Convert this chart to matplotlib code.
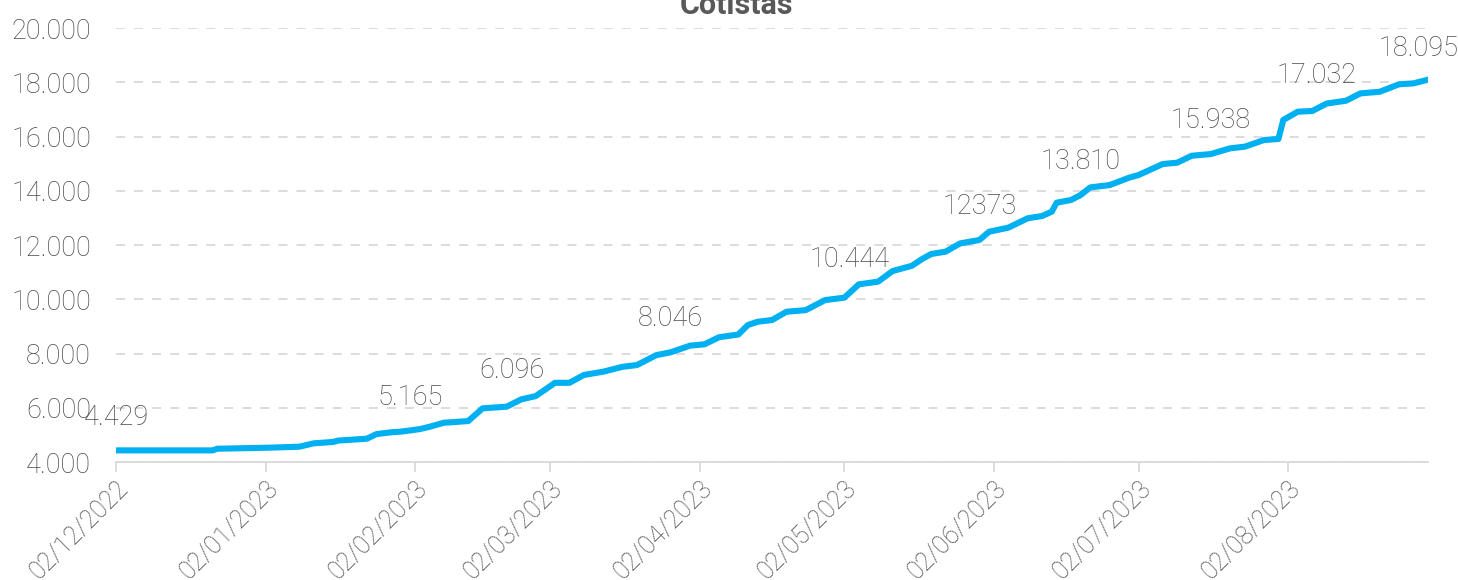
import numpy as np
import pandas as pd
import matplotlib
matplotlib.use("Agg")
import matplotlib.pyplot as plt
import matplotlib.dates as mdates
from matplotlib.ticker import FuncFormatter

plt.rcParams['font.family'] = ['Roboto', 'DejaVu Sans']
plt.rcParams['font.weight'] = 'light'

# valores (cotistas por data)
dates = ["2022-12-02", "2022-12-22", "2022-12-23", "2023-01-03", "2023-01-09", "2023-01-12",
         "2023-01-16", "2023-01-17", "2023-01-23", "2023-01-25", "2023-01-28", "2023-01-30",
         "2023-02-01", "2023-02-03", "2023-02-05", "2023-02-08", "2023-02-09", "2023-02-13",
         "2023-02-16", "2023-02-21", "2023-02-24", "2023-02-27", "2023-03-03", "2023-03-06",
         "2023-03-09", "2023-03-13", "2023-03-17", "2023-03-20", "2023-03-24", "2023-03-27",
         "2023-03-31", "2023-04-03", "2023-04-06", "2023-04-10", "2023-04-12", "2023-04-14",
         "2023-04-17", "2023-04-20", "2023-04-24", "2023-04-28", "2023-05-02", "2023-05-05",
         "2023-05-09", "2023-05-12", "2023-05-16", "2023-05-18", "2023-05-20", "2023-05-23",
         "2023-05-26", "2023-05-30", "2023-06-01", "2023-06-05", "2023-06-09", "2023-06-12",
         "2023-06-14", "2023-06-15", "2023-06-18", "2023-06-20", "2023-06-22", "2023-06-26",
         "2023-06-30", "2023-07-02", "2023-07-07", "2023-07-10", "2023-07-13", "2023-07-17",
         "2023-07-21", "2023-07-24", "2023-07-28", "2023-07-31", "2023-08-01", "2023-08-04",
         "2023-08-07", "2023-08-10", "2023-08-14", "2023-08-17", "2023-08-21", "2023-08-25",
         "2023-08-28", "2023-08-31"]
cotistas = [4429, 4429, 4490, 4530, 4565, 4690,
            4740, 4790, 4860, 5030, 5095, 5120,
            5165, 5215, 5300, 5450, 5460, 5510,
            5980, 6040, 6310, 6430, 6920, 6920,
            7210, 7330, 7510, 7575, 7940, 8046,
            8290, 8340, 8600, 8700, 9050, 9170,
            9235, 9540, 9600, 9970, 10060, 10550,
            10650, 11040, 11235, 11470, 11670, 11755,
            12060, 12185, 12490, 12640, 12985, 13070,
            13230, 13560, 13660, 13845, 14125, 14210,
            14480, 14580, 14985, 15035, 15290, 15355,
            15565, 15625, 15870, 15910, 16610, 16915,
            16940, 17215, 17320, 17590, 17650, 17925,
            17960, 18095]

label_dates = ["2022-12-02", "2023-02-01", "2023-02-22", "2023-03-27", "2023-05-03",
               "2023-05-30", "2023-06-20", "2023-07-17", "2023-08-08", "2023-08-29"]
label_texts = ["4.429", "5.165", "6.096", "8.046", "10.444",
               "12373", "13.810", "15.938", "17.032", "18.095"]

tick_dates = ["2022-12-02", "2023-01-02", "2023-02-02", "2023-03-02", "2023-04-02",
              "2023-05-02", "2023-06-02", "2023-07-02", "2023-08-02"]

x = pd.to_datetime(dates)
xl = pd.to_datetime(label_dates)
xt = pd.to_datetime(tick_dates)

gray = '#4a4a4a'
fig = plt.figure(figsize=(14.58, 5.8), dpi=100)
ax = fig.add_axes([0.0796, 0.2034, 0.8998, 0.7483])

ax.plot(x, cotistas, color='#00B0F0', lw=4.4, solid_capstyle='round', zorder=3)

xnum = mdates.date2num(x)
for d, t in zip(xl, label_texts):
    v = np.interp(mdates.date2num(d), xnum, cotistas)
    ax.annotate(t, (d, v), xytext=(0, 24), textcoords='offset points',
                ha='center', va='center', fontsize=19.5, color=gray, zorder=4,
                annotation_clip=False)

ax.set_ylim(4000, 20000)
ax.set_yticks(np.arange(4000, 20001, 2000))
ax.yaxis.set_major_formatter(FuncFormatter(lambda v, p: f"{int(v):,}".replace(",", ".")))
ax.set_xlim(x[0], x[-1])
ax.set_xticks(xt)
ax.set_xticklabels([d.strftime("%d/%m/%Y") for d in xt], rotation=45,
                   ha='right', va='top', rotation_mode='anchor')

ax.grid(axis='y', color='#D9D9D9', linestyle=(0, (5, 5)), lw=1.3)
ax.set_axisbelow(True)
for s in ['left', 'right', 'top']:
    ax.spines[s].set_visible(False)
ax.spines['bottom'].set_color('#D9D9D9')
ax.spines['bottom'].set_linewidth(1.3)
ax.tick_params(axis='y', length=0, labelsize=19.5, labelcolor=gray, pad=18)
ax.tick_params(axis='x', length=7, color='#D9D9D9', width=1.3, labelsize=18,
               labelcolor=gray, pad=3)

fig.text(0.505, 0.976, "Cotistas", ha='center', va='baseline', fontsize=22,
         fontweight='bold', color='#595959')

fig.savefig("out.png", dpi=100)
